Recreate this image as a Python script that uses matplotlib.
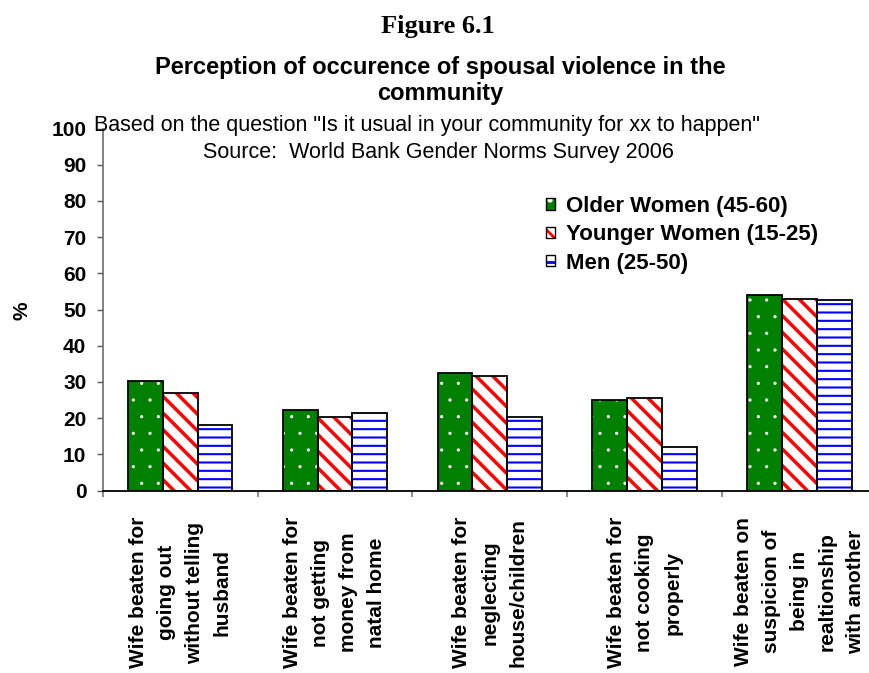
import matplotlib
matplotlib.use("Agg")
import matplotlib.pyplot as plt
import matplotlib.hatch as mhatch
from matplotlib.patches import Patch
from matplotlib.legend_handler import HandlerTuple
import numpy as np

categories = [
    "Wife beaten for\ngoing out\nwithout telling\nhusband",
    "Wife beaten for\nnot getting\nmoney from\nnatal home",
    "Wife beaten for\nneglecting\nhouse/children",
    "Wife beaten for\nnot cooking\nproperly",
    "Wife beaten on\nsuspicion of\nbeing in\nrealtionship\nwith another",
]
series_names = ["Older Women (45-60)", "Younger Women (15-25)", "Men (25-50)"]
older_women = [30.2, 22.2, 32.5, 25.0, 54.0]
younger_women = [27.0, 20.2, 31.6, 25.5, 53.0]
men = [18.1, 21.3, 20.4, 11.9, 52.5]
yticks = [0, 10, 20, 30, 40, 50, 60, 70, 80, 90, 100]

W, H = 870, 673
plt.rcParams['font.family'] = ['Liberation Sans', 'DejaVu Sans']
plt.rcParams['hatch.linewidth'] = 2.0
# smaller dots for the dotted fill
mhatch.SmallFilledCircles.size = 0.075

fig = plt.figure(figsize=(W / 100, H / 100), dpi=100)

def fx(x):
    return x / W

def fy(y):
    return 1 - y / H

ax_left, ax_right, ax_top, ax_bot = 102.7, 877.0, 128.5, 490.5
ax = fig.add_axes([fx(ax_left), fy(ax_bot), (ax_right - ax_left) / W, (ax_bot - ax_top) / H])

x = np.arange(len(categories))
bw = 0.225
styles = [
    dict(fc="#008000", hc="white", hatch=".", hlw=0.5),
    dict(fc="white", hc="#FF0000", hatch="\\\\", hlw=2.5),
    dict(fc="white", hc="#0000FF", hatch="--", hlw=1.5),
]
data = [older_women, younger_women, men]
handles = []
for i, (vals, st) in enumerate(zip(data, styles)):
    pos = x + (i - 1) * bw
    bars = ax.bar(pos, vals, width=bw, facecolor=st["fc"], edgecolor=st["hc"],
                  hatch=st["hatch"], linewidth=0, zorder=2)
    for b in bars:
        if hasattr(b, "set_hatch_linewidth"):
            b.set_hatch_linewidth(st["hlw"])
    ax.bar(pos, vals, width=bw, facecolor="none", edgecolor="black",
           linewidth=1.3, zorder=3)
    p1 = Patch(facecolor=st["fc"], edgecolor=st["hc"], hatch=st["hatch"], linewidth=0)
    if hasattr(p1, "set_hatch_linewidth"):
        p1.set_hatch_linewidth(st["hlw"])
    p2 = Patch(facecolor="none", edgecolor="black", linewidth=1.0)
    handles.append((p1, p2))

ax.set_xlim(-0.5, len(categories) - 0.5)
ax.set_ylim(0, 100)
ax.set_yticks(yticks)
ax.set_yticklabels([str(v) for v in yticks], fontsize=15, fontweight="bold")
ax.tick_params(axis="y", length=4.3, width=1, color="#555555", pad=7.5)

ax.set_xticks(x)
ax.set_xticklabels(categories, rotation=90, fontsize=15, fontweight="bold",
                   ha="center", va="top", multialignment="center", linespacing=1.6)
ax.tick_params(axis="x", which="major", length=0, pad=19)
ax.set_xticks(np.arange(len(categories) + 1) - 0.5, minor=True)
ax.tick_params(axis="x", which="minor", length=4.3, width=1.2, color="#777777")

for s in ["top", "right"]:
    ax.spines[s].set_visible(False)
ax.spines["left"].set_color("#777777")
ax.spines["left"].set_linewidth(1.3)
ax.spines["bottom"].set_color("black")
ax.spines["bottom"].set_linewidth(1.3)
ax.spines["bottom"].set_zorder(4)

leg = fig.legend(handles, series_names, loc="upper left",
                 bbox_to_anchor=(fx(546), fy(196)), bbox_transform=fig.transFigure,
                 frameon=False, borderpad=0, borderaxespad=0,
                 handlelength=0.4, handleheight=0.4, handletextpad=0.5,
                 labelspacing=0.33,
                 prop=dict(family="Liberation Sans", weight="bold", size=16),
                 handler_map={tuple: HandlerTuple(ndivide=1)})

fig.text(fx(438), fy(33), "Figure 6.1", family="Liberation Serif", weight="bold",
         fontsize=19, ha="center", va="baseline")
fig.text(fx(440), fy(74), "Perception of occurence of spousal violence in the",
         weight="bold", fontsize=17, ha="center", va="baseline")
fig.text(fx(440), fy(100), "community", weight="bold", fontsize=17,
         ha="center", va="baseline")
fig.text(fx(94), fy(130.5),
         'Based on the question "Is it usual in your community for xx to happen"',
         fontsize=15.5, ha="left", va="baseline")
fig.text(fx(203), fy(158), "Source:  World Bank Gender Norms Survey 2006",
         fontsize=15.5, ha="left", va="baseline")
fig.text(fx(22), fy(311), "%", rotation=90, weight="bold", fontsize=15,
         ha="center", va="center")

fig.savefig("out.png", dpi=100)
